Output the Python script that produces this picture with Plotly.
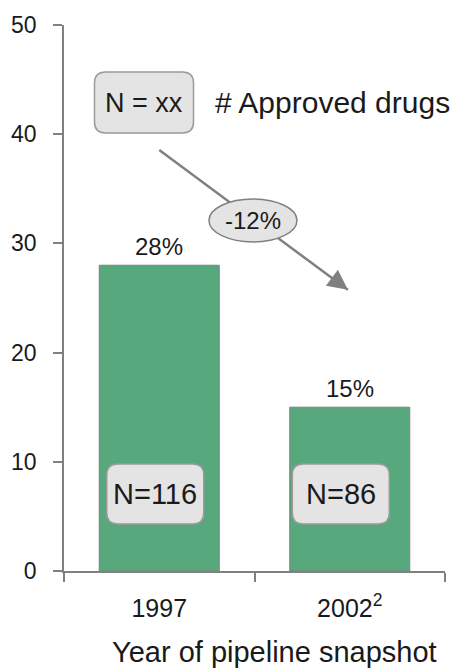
import plotly.graph_objects as go

# ---- data ----
years = ["1997", "2002<sup>2</sup>"]
approved = [28, 15]
pct_labels = ["28%", "15%"]
n_labels = ["N=116", "N=86"]
change_label = "-12%"
legend_box = "N = xx"
legend_text = "# Approved drugs"
y_ticks = [0, 10, 20, 30, 40, 50]
x_title = "Year of pipeline snapshot"

FONT = "Liberation Sans, Arial, sans-serif"
TXT = "#1a1a1a"
GRAY = "#808080"
BOXFILL = "#e4e4e4"
BAR = "#57a87d"

fig = go.Figure()
fig.add_trace(go.Bar(
    x=[0, 1], y=approved, width=0.63,
    marker=dict(color=BAR, line=dict(color=GRAY, width=1)),
    hoverinfo="skip", showlegend=False,
))

def rrect(w, h, r):
    x0, x1, y0, y1 = -w / 2, w / 2, -h / 2, h / 2
    return (f"M {x0+r},{y0} L {x1-r},{y0} Q {x1},{y0} {x1},{y0+r} "
            f"L {x1},{y1-r} Q {x1},{y1} {x1-r},{y1} L {x0+r},{y1} "
            f"Q {x0},{y1} {x0},{y1-r} L {x0},{y0+r} Q {x0},{y0} {x0+r},{y0} Z")

shapes = []
annotations = []

# percentage labels above bars and N boxes inside bars
for i, (v, p, n) in enumerate(zip(approved, pct_labels, n_labels)):
    annotations.append(dict(x=i, y=v, xref="x", yref="y", text=p, showarrow=False,
                            yanchor="bottom", yshift=3,
                            font=dict(family=FONT, size=24, color=TXT)))
    xs = -4 if i == 0 else -9
    shapes.append(dict(type="path", xref="x", yref="y", xsizemode="pixel", ysizemode="pixel",
                       xanchor=i + xs / 191.5, yanchor=7.05, path=rrect(97, 60, 11),
                       fillcolor=BOXFILL, line=dict(color="#9a9a9a", width=1.5), layer="above"))
    annotations.append(dict(x=i + xs / 191.5, y=7.05, xref="x", yref="y", text=n, showarrow=False,
                            font=dict(family=FONT, size=29, color=TXT)))

# legend box "N = xx"
shapes.append(dict(type="path", xref="x", yref="y", xsizemode="pixel", ysizemode="pixel",
                   xanchor=-0.08, yanchor=42.9, path=rrect(99, 61, 11),
                   fillcolor=BOXFILL, line=dict(color="#9a9a9a", width=1.5), layer="above"))
annotations.append(dict(x=-0.08, y=42.9, xref="x", yref="y", text=legend_box, showarrow=False,
                        font=dict(family=FONT, size=27, color=TXT)))
annotations.append(dict(x=0.284, y=42.9, xref="x", yref="y", text=legend_text, showarrow=False,
                        xanchor="left", font=dict(family=FONT, size=30, color=TXT)))

# arrow shaft, ellipse, arrowhead
shapes.append(dict(type="line", xref="x", yref="y", x0=0, y0=38.55, x1=0.99, y1=25.75,
                   line=dict(color=GRAY, width=2.5), layer="above"))
shapes.append(dict(type="circle", xref="x", yref="y", xsizemode="pixel", ysizemode="pixel",
                   xanchor=0.492, yanchor=32.1, x0=-44, x1=44, y0=-21.5, y1=21.5,
                   fillcolor=BOXFILL, line=dict(color=GRAY, width=1.5), layer="above"))
annotations.append(dict(x=0.492, y=32.1, xref="x", yref="y", text=change_label, showarrow=False,
                        font=dict(family=FONT, size=24, color=TXT)))
annotations.append(dict(x=0.99, y=25.75, xref="x", yref="y", text="", showarrow=True,
                        ax=-16, ay=-12, arrowhead=2, arrowsize=1.6, arrowwidth=2.5,
                        arrowcolor=GRAY))

# axis title
annotations.append(dict(x=0.553, y=-0.148, xref="paper", yref="paper", text=x_title,
                        showarrow=False, yanchor="middle",
                        font=dict(family=FONT, size=29, color=TXT)))

fig.update_layout(
    width=456, height=668,
    margin=dict(l=62, r=11, t=25, b=97),
    paper_bgcolor="white", plot_bgcolor="white",
    shapes=shapes, annotations=annotations,
)
fig.update_xaxes(type="linear", range=[-0.5, 1.5], tickvals=[0, 1], ticktext=years,
                 showline=True, linecolor=GRAY, linewidth=1.5, ticks="", showgrid=False,
                 zeroline=False, tickfont=dict(family=FONT, size=25, color=TXT),
                 ticklabelstandoff=14)
# boundary ticks drawn via minor ticks
fig.update_xaxes(minor=dict(tickvals=[-0.5, 0.5, 1.5], ticks="outside", ticklen=9,
                            tickcolor=GRAY, tickwidth=1.5, showgrid=False))
fig.update_yaxes(range=[0, 50], tickvals=y_ticks, showline=True, linecolor=GRAY, linewidth=1.5,
                 ticks="outside", ticklen=9, tickcolor=GRAY, tickwidth=1.5, showgrid=False,
                 zeroline=False, tickfont=dict(family=FONT, size=23, color=TXT),
                 ticklabelstandoff=12)

fig.write_html("out.html", config={"displayModeBar": False},
               post_script="document.body.style.margin='0';")
